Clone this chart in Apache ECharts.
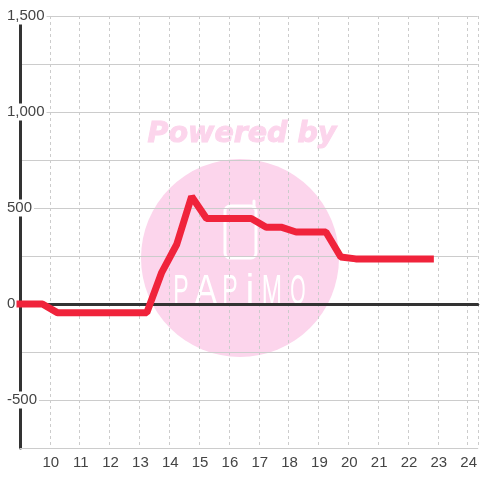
<!DOCTYPE html>
<html>
<head>
<meta charset="utf-8">
<style>
  html, body { margin: 0; padding: 0; background: #fff; }
  #chart { width: 480px; height: 480px; }
</style>
<script src="https://cdn.jsdelivr.net/npm/echarts@6/dist/echarts.min.js"></script>
</head>
<body>
<div id="chart"></div>
<script>
// hour of day / value
var hours = [9, 9.75, 10.25, 10.75, 11.25, 11.75, 12.25, 12.75, 13.25, 13.75, 14.25, 14.75, 15.25, 15.75, 16.25, 16.75, 17.25, 17.75, 18.25, 18.75, 19.25, 19.75, 20.25, 20.75, 21.25, 21.75, 22.25, 22.75];
var values = [0, 0, -45, -45, -45, -45, -45, -45, -45, 165, 310, 560, 445, 445, 445, 445, 400, 400, 375, 375, 375, 245, 235, 235, 235, 235, 235, 235];
var logoLetters = ['P', 'A', 'P', 'i', 'M', 'O'];

var pink = '#fcd5ec';
var points = hours.map(function (h, i) { return [h, values[i]]; });

// watermark, sits under the grid lines
var watermark = [
  { type: 'circle', z: -1, shape: { cx: 240, cy: 258, r: 99 }, style: { fill: pink } },
  { type: 'text', z: -1, style: { x: 242, y: 135, text: 'Powered by', align: 'center', verticalAlign: 'middle',
      font: 'italic bold 28.5px "DejaVu Sans"', fill: pink, stroke: pink, lineWidth: 1 } },
  { type: 'rect', z: -1, shape: { x: 225, y: 206, width: 31, height: 52, r: 5 },
    style: { fill: 'none', stroke: '#fff', lineWidth: 3 } },
  { type: 'line', z: -1, shape: { x1: 254, y1: 201, x2: 254, y2: 208 },
    style: { stroke: '#fff', lineWidth: 3, lineCap: 'round' } }
];
var logoX = [181, 206, 230, 250, 272, 298];
var logoScale = [0.55, 0.8, 0.55, 0.9, 0.58, 0.47];
logoLetters.forEach(function (ch, i) {
  watermark.push({ type: 'text', z: -1, x: logoX[i], y: 292, scaleX: logoScale[i], style: { x: 0, y: 0, text: ch, align: 'center', verticalAlign: 'middle',
    font: '42px "Liberation Sans"', fill: '#fff', stroke: pink, lineWidth: 1 } });
});

var chart = echarts.init(document.getElementById('chart'), null, { renderer: 'canvas' });
chart.setOption({
  animation: false,
  backgroundColor: '#fff',
  graphic: watermark,
  grid: { left: 20, right: 0, top: 16, bottom: 32, containLabel: false },
  xAxis: [
    {
      type: 'value', min: 9, max: 24.34, interval: 1, position: 'bottom',
      axisLine: { onZero: false, lineStyle: { color: '#ccc', width: 1 } },
      axisTick: { show: false },
      axisLabel: { color: '#444', fontSize: 15, fontFamily: 'Liberation Sans', margin: 7, padding: [0, 0, 0, 2], showMinLabel: false, showMaxLabel: false },
      splitLine: { show: true, lineStyle: { color: '#ccc', type: [3, 3], width: 1 } }
    },
    {
      // dark zero line
      type: 'value', min: 9, max: 24.34, interval: 1, position: 'bottom',
      axisLine: { onZero: true, lineStyle: { color: '#333', width: 3 } },
      axisTick: { show: false }, axisLabel: { show: false }, splitLine: { show: false }
    }
  ],
  yAxis: {
    type: 'value', min: -750, max: 1500, interval: 250, position: 'left',
    axisLine: { show: true, onZero: false, lineStyle: { color: '#333', width: 3 } },
    axisTick: { show: false },
    axisLabel: {
      color: '#444', fontSize: 15, fontFamily: 'Liberation Sans', align: 'left', margin: 13,
      backgroundColor: '#fff', padding: [3, 2, -1, 0],
      formatter: function (v) { return v % 500 ? '' : v.toLocaleString('en-US'); }
    },
    splitLine: { show: true, lineStyle: { color: '#ccc', width: 1 } }
  },
  series: [{
    type: 'line', xAxisIndex: 0, data: points, symbol: 'none', clip: false, smooth: false,
    lineStyle: { color: '#f0233b', width: 7, cap: 'square', join: 'bevel' }
  }]
});
</script>
</body>
</html>
